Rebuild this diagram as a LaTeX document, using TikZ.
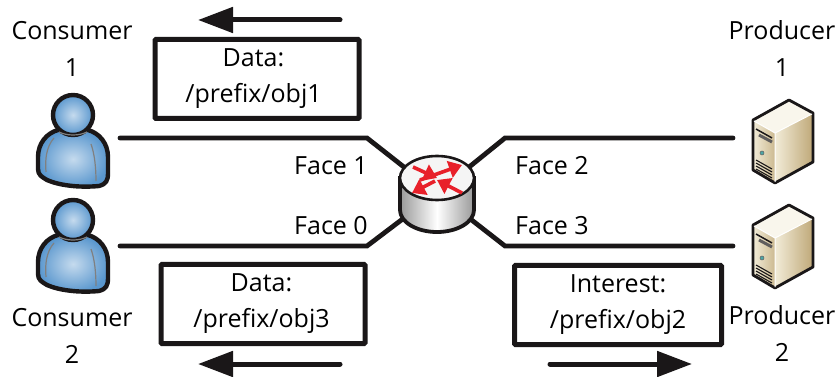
\documentclass[tikz,border=0pt]{standalone}
\usepackage{fontspec}
\setmainfont{Open Sans}
\usetikzlibrary{arrows.meta}
\definecolor{linkblack}{HTML}{1A1718}
\definecolor{userblue}{HTML}{5A97CE}
\definecolor{flowred}{HTML}{E8202A}
\definecolor{servertan}{HTML}{BFA878}
\definecolor{servercream}{HTML}{F2ECD8}
\tikzset{
  link/.style={draw=linkblack, line width=4.8pt, line join=miter, line cap=round},
  msgbox/.style={draw=linkblack, line width=5pt, rounded corners=1pt, minimum width=204pt, minimum height=79pt, align=center, font=\fontsize{25}{36}\selectfont, inner sep=0pt},
  lbl/.style={align=center, font=\fontsize{25}{37}\selectfont, inner sep=0pt},
  flow/.style={draw=linkblack, line width=5pt, line cap=round, -{Triangle[length=35pt,width=25pt]}},
  redarrow/.style={draw=flowred, line width=3.6pt, -{Triangle[length=13pt,width=17pt]}},
  user/.pic={
    \draw[draw=linkblack, line width=4.4pt, line join=round, inner color=userblue!35!white, outer color=userblue]
      (-15,15) .. controls (-26,18) and (-35,28) .. (-35,42) -- (-35,54) .. controls (-35,60) and (-31,62) .. (-26,65)
      .. controls (-15,70) and (5,73) .. (26,71) .. controls (33,69) and (35,66) .. (35,58) -- (35,42) .. controls (35,28) and (26,18) .. (15,15) -- cycle;
    \draw[draw=linkblack, line width=4.4pt, inner color=userblue!35!white, outer color=userblue] (0,0) circle (20);
    \draw[gray, line width=1.2pt] (-14,17) .. controls (-6,21) and (6,21) .. (14,17);
    \draw[gray, line width=1.2pt] (-19,23) .. controls (-27,32) and (-28,45) .. (-27,57);
    \draw[gray, line width=1.2pt] (18,29) .. controls (22,40) and (23,55) .. (23,66);
  },
  server/.pic={
    \shade[left color=servercream, right color=servertan!75!servercream] (-22,20) -- (0,33) -- (0,83) -- (-22,70) -- cycle;
    \shade[left color=servercream, right color=servertan] (0,33) -- (38,13) -- (38,62) -- (0,83) -- cycle;
    \fill[servercream!50!white] (-22,20) -- (14,0) -- (38,13) -- (0,33) -- cycle;
    \draw[draw=linkblack, line width=2.8pt, line join=round] (-22,20) -- (14,0) -- (38,13) -- (38,62) -- (0,83) -- (-22,70) -- cycle;
    \draw[draw=white, line width=1pt] (-21,21) -- (0,33) -- (37,14) (0,33) -- (0,82);
    \draw[draw=linkblack, line width=1.5pt] (-19,29) -- (-3,38);
    \draw[draw=linkblack!70, line width=3pt] (-16,35) -- (-3,42);
    \fill[teal!70!white, draw=linkblack!70, line width=.5pt] (-13,53) circle (2);
    \foreach \i in {0,3,6,9}
      \draw[draw=linkblack, line width=1.1pt] (-19,{60+\i}) -- (-3,{69+\i});
  },
}
\begin{document}
\begin{tikzpicture}[x=1pt, y=-1pt]
  \useasboundingbox (0,0) rectangle (839,377);
  % connectors first so the router sits on top
  \coordinate (router) at (437,193);
  \coordinate (user1) at (120,138);
  \coordinate (user2) at (120,246);
  \coordinate (server1) at (733,138);
  \coordinate (server2) at (733,246);
  \coordinate (bend1) at (367,138);
  \coordinate (bend0) at (367,246);
  \coordinate (bend2) at (505,138);
  \coordinate (bend3) at (505,246);
  \draw[link] (user1) -- (bend1) -- (router);
  \draw[link] (user2) -- (bend0) -- (router);
  \draw[link] (server1) -- (bend2) -- (router);
  \draw[link] (server2) -- (bend3) -- (router);
  % router
  \draw[draw=linkblack, line width=3.8pt, left color=black!40, right color=black!40, middle color=white]
    (400,178) -- (400,210) arc[start angle=180, end angle=0, x radius=37, y radius=22] -- (474,178) -- cycle;
  \draw[draw=linkblack, line width=2.6pt, fill=black!4] (437,178) ellipse (37 and 22);
  \draw[redarrow] (413,167) -- (437,178);
  \draw[redarrow] (420,180) -- (462,165);
  \draw[redarrow] (435,181) -- (412,193);
  \draw[redarrow] (462,193) -- (437,180);
  % users and servers
  \pic at (73,115) {user};
  \pic at (73,220) {user};
  \pic at (775,100) {server};
  \pic at (775,205) {server};
  % text
  \node[lbl] (consumer1) at (72,49) {Consumer\\1};
  \node[lbl] (consumer2) at (72,336) {Consumer\\2};
  \node[lbl] (producer1) at (782,49) {Producer\\1};
  \node[lbl] (producer2) at (782,334) {Producer\\2};
  \node[lbl] (face1) at (331,166) {Face 1};
  \node[lbl] (face0) at (331,226) {Face 0};
  \node[lbl] (face2) at (552,166) {Face 2};
  \node[lbl] (face3) at (552,226) {Face 3};
  \node[msgbox] (box1) at (257,79) {Data:\hspace*{7pt}\\/prefix/obj1\hspace*{7pt}};
  \node[msgbox] (box3) at (263,304) {Data:\hspace*{3pt}\\/prefix/obj3\hspace*{3pt}};
  \node[msgbox, minimum width=207pt] (box2) at (618,305) {Interest:\\/prefix/obj2};
  % flow arrows
  \coordinate (a1s) at (340,20);
  \coordinate (a1e) at (198,20);
  \coordinate (a3s) at (340,364);
  \coordinate (a3e) at (198,364);
  \coordinate (a2s) at (550,364);
  \coordinate (a2e) at (692,364);
  \draw[flow] (a1s) -- (a1e);
  \draw[flow] (a3s) -- (a3e);
  \draw[flow] (a2s) -- (a2e);
\end{tikzpicture}
\end{document}
